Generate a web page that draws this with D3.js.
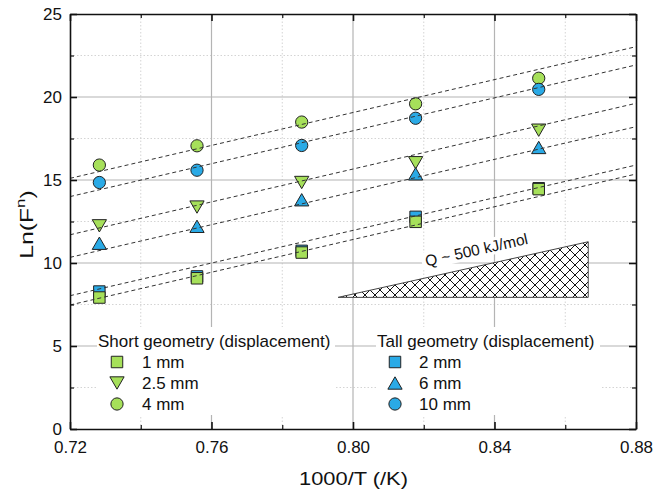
<!DOCTYPE html>
<html><head><meta charset="utf-8">
<script src="https://cdn.jsdelivr.net/npm/d3@7"></script>
<style>body{margin:0;background:#fff;} text{font-family:Arial,"Liberation Sans",sans-serif;}</style>
</head><body><svg id="c" width="672" height="492"></svg>
<script>
// ---- data ----
const xVals = [0.7283, 0.7559, 0.7855, 0.8177, 0.8525];           // 1000/T
const short1mm  = [7.92, 9.08, 10.63, 12.48, 14.45];
const short25mm = [12.24, 13.37, 14.85, 16.04, 18.00];
const short4mm  = [15.90, 17.06, 18.49, 19.59, 21.13];
const tall2mm   = [8.28, 9.19, 10.73, 12.78, 14.50];
const tall6mm   = [11.19, 12.21, 13.81, 15.37, 16.96];
const tall10mm  = [14.85, 15.59, 17.08, 18.72, 20.46];
const fitX      = [0.72, 0.88];
const fitStart  = [15.10, 14.00, 11.70, 10.34, 8.03, 7.47];
const fitEnd    = [23.03, 21.93, 19.62, 18.21, 15.90, 15.36];
const xTicks = [0.72, 0.76, 0.80, 0.84, 0.88];
const xMinor = [0.74, 0.78, 0.82, 0.86];
const yTicks = [0, 5, 10, 15, 20, 25];
const yMinor = [2.5, 7.5, 12.5, 17.5, 22.5];
const shortLabels = ["1 mm", "2.5 mm", "4 mm"];
const tallLabels  = ["2 mm", "6 mm", "10 mm"];
const shortTitle = "Short geometry (displacement)";
const tallTitle  = "Tall geometry (displacement)";
const wedgeX = [0.7958, 0.8665];
const wedgeY = [7.93, 11.28];
const wedgeLabel = "Q ~ 500 kJ/mol";

const GREEN = "#a6e05a", BLUE = "#2aaae6";

const W = 672, H = 492, m = {l:70, t:14, r:36, b:63};
const svg = d3.select("#c");
const x = d3.scaleLinear().domain([0.72, 0.88]).range([m.l, W - m.r]);
const y = d3.scaleLinear().domain([0, 25]).range([H - m.b, m.t]);

// grid
const g = svg.append("g");
g.selectAll(".gxm").data(xMinor).join("line").attr("x1", d=>x(d)).attr("x2", d=>x(d)).attr("y1", y(0)).attr("y2", y(25))
  .attr("stroke", "#d4d4d4").attr("stroke-dasharray", "1.5,2");
g.selectAll(".gym").data(yMinor).join("line").attr("y1", d=>y(d)).attr("y2", d=>y(d)).attr("x1", x(0.72)).attr("x2", x(0.88))
  .attr("stroke", "#d4d4d4").attr("stroke-dasharray", "1.5,2");
g.selectAll(".gx").data(xTicks.slice(1, -1)).join("line").attr("x1", d=>x(d)).attr("x2", d=>x(d)).attr("y1", y(0)).attr("y2", y(25))
  .attr("stroke", "#b4b4b4").attr("stroke-width", 1.2);
g.selectAll(".gy").data(yTicks.slice(1, -1)).join("line").attr("y1", d=>y(d)).attr("y2", d=>y(d)).attr("x1", x(0.72)).attr("x2", x(0.88))
  .attr("stroke", "#b4b4b4").attr("stroke-width", 1.2);

// hatch pattern
const defs = svg.append("defs");
const pat = defs.append("pattern").attr("id", "hatch").attr("patternUnits", "userSpaceOnUse").attr("width", 10).attr("height", 10);
pat.append("rect").attr("width", 10).attr("height", 10).attr("fill", "#fff");
pat.append("path").attr("d", "M0,0L10,10M10,0L0,10M-1,9L1,11M9,-1L11,1M-1,1L1,-1M9,11L11,9").attr("stroke", "#111").attr("stroke-width", 1);

// wedge
const wp = [[x(wedgeX[0]), y(wedgeY[0])], [x(wedgeX[1]), y(wedgeY[0])], [x(wedgeX[1]), y(wedgeY[1])]];
svg.append("path").attr("d", "M" + wp.join("L") + "Z").attr("fill", "url(#hatch)").attr("stroke", "#444").attr("stroke-width", 1);
const ang = Math.atan2(wp[2][1] - wp[0][1], wp[2][0] - wp[0][0]) * 180 / Math.PI;
const midX = x(0.8359);
const midY = wp[0][1] + (midX - wp[0][0]) * (wp[2][1] - wp[0][1]) / (wp[2][0] - wp[0][0]);
const wl = svg.append("g").attr("transform", `translate(${midX},${midY}) rotate(${ang})`);
wl.append("rect").attr("x", -56).attr("y", -25).attr("width", 112).attr("height", 17).attr("fill", "#fff");
wl.append("text").attr("x", 0).attr("y", -11).attr("text-anchor", "middle").attr("font-size", 15.5).attr("fill", "#111").text(wedgeLabel);

// legend backgrounds
svg.append("rect").attr("x", 97).attr("y", 327).attr("width", 238).attr("height", 88).attr("fill", "#fff");
svg.append("rect").attr("x", 376).attr("y", 327).attr("width", 224).attr("height", 88).attr("fill", "#fff");

// symbols
const triUp = {draw(ctx, size){ const s = Math.sqrt(size*4/Math.sqrt(3)); const h = s*Math.sqrt(3)/2;
  ctx.moveTo(0, -h/2); ctx.lineTo(s/2, h/2); ctx.lineTo(-s/2, h/2); ctx.closePath(); }};
const triDown = {draw(ctx, size){ const s = Math.sqrt(size*4/Math.sqrt(3)); const h = s*Math.sqrt(3)/2;
  ctx.moveTo(0, h/2); ctx.lineTo(s/2, -h/2); ctx.lineTo(-s/2, -h/2); ctx.closePath(); }};
const shapes = {
  square: d3.symbol().type(d3.symbolSquare).size(132)(),
  circle: d3.symbol().type(d3.symbolCircle).size(118)(),
  up: d3.symbol().type(triUp).size(88)(),
  down: d3.symbol().type(triDown).size(88)()
};
const seriesList = [
  {vals: tall2mm,  shape: "square", color: BLUE},
  {vals: short1mm, shape: "square", color: GREEN},
  {vals: short25mm, shape: "down", color: GREEN},
  {vals: tall6mm,  shape: "up", color: BLUE},
  {vals: short4mm, shape: "circle", color: GREEN},
  {vals: tall10mm, shape: "circle", color: BLUE}
];
seriesList.forEach(s => {
  svg.append("g").selectAll("path").data(s.vals).join("path")
    .attr("d", shapes[s.shape]).attr("transform", (d, i) => `translate(${x(xVals[i])},${y(d)})`)
    .attr("fill", s.color).attr("stroke", "#222").attr("stroke-width", 1);
});

// fit lines
svg.append("g").selectAll("line").data(fitStart).join("line")
  .attr("x1", x(fitX[0])).attr("x2", x(fitX[1])).attr("y1", d => y(d)).attr("y2", (d, i) => y(fitEnd[i]))
  .attr("stroke", "#333").attr("stroke-width", 1).attr("stroke-dasharray", "4,3");

// legends
function legend(x0, mx, lx, title, labels, shapesArr, color){
  svg.append("text").attr("x", x0).attr("y", 347).attr("font-size", 17).attr("fill", "#111").text(title);
  labels.forEach((l, i) => {
    const yy = 362 + i * 21;
    svg.append("path").attr("d", shapes[shapesArr[i]]).attr("transform", `translate(${mx},${yy})`)
      .attr("fill", color).attr("stroke", "#222").attr("stroke-width", 1);
    svg.append("text").attr("x", lx).attr("y", yy + 6).attr("font-size", 17).attr("fill", "#111").text(l);
  });
}
legend(98, 117, 142, shortTitle, shortLabels, ["square", "down", "circle"], GREEN);
legend(377, 395, 419, tallTitle, tallLabels, ["square", "up", "circle"], BLUE);

// axes
function styleAxis(sel){ sel.select(".domain").attr("stroke", "#111").attr("stroke-width", 1.6);
  sel.selectAll(".tick line").attr("stroke", "#111").attr("stroke-width", 1.6);
  sel.selectAll("text").attr("font-size", 17).attr("fill", "#111").attr("font-family", "Arial, 'Liberation Sans', sans-serif"); }
function minor(sel){ sel.select(".domain").remove(); sel.selectAll(".tick line").attr("stroke", "#111").attr("stroke-width", 1.2); }

svg.append("g").attr("transform", `translate(0,${y(0)})`).call(d3.axisBottom(x).tickValues(xMinor).tickSize(-4).tickFormat("")).call(minor);
svg.append("g").attr("transform", `translate(0,${y(25)})`).call(d3.axisTop(x).tickValues(xMinor).tickSize(-4).tickFormat("")).call(minor);
svg.append("g").attr("transform", `translate(${x(0.72)},0)`).call(d3.axisLeft(y).tickValues(yMinor).tickSize(-4).tickFormat("")).call(minor);
svg.append("g").attr("transform", `translate(${x(0.88)},0)`).call(d3.axisRight(y).tickValues(yMinor).tickSize(-4).tickFormat("")).call(minor);

svg.append("g").attr("transform", `translate(0,${y(0)})`)
  .call(d3.axisBottom(x).tickValues(xTicks).tickSize(-7).tickSizeOuter(0).tickPadding(12).tickFormat(d3.format(".2f"))).call(styleAxis);
svg.append("g").attr("transform", `translate(0,${y(25)})`)
  .call(d3.axisTop(x).tickValues(xTicks).tickSize(-7).tickSizeOuter(0).tickFormat("")).call(styleAxis);
svg.append("g").attr("transform", `translate(${x(0.72)},0)`)
  .call(d3.axisLeft(y).tickValues(yTicks).tickSize(-7).tickSizeOuter(0).tickPadding(8).tickFormat(d3.format("d"))).call(styleAxis);
svg.append("g").attr("transform", `translate(${x(0.88)},0)`)
  .call(d3.axisRight(y).tickValues(yTicks).tickSize(-7).tickSizeOuter(0).tickFormat("")).call(styleAxis);

// titles
svg.append("text").attr("transform", `translate(353.5,484.5) scale(1.15,1)`).attr("text-anchor", "middle")
  .attr("font-size", 19).attr("fill", "#111").text("1000/T (/K)");
const yt = svg.append("text").attr("transform", `translate(33,224.5) rotate(-90) scale(1.3,1)`).attr("text-anchor", "middle")
  .attr("font-size", 19).attr("fill", "#111");
yt.append("tspan").text("Ln(F");
yt.append("tspan").attr("font-size", 13).attr("dy", -8).text("n");
yt.append("tspan").attr("dy", 8).text(")");
</script></body></html>
